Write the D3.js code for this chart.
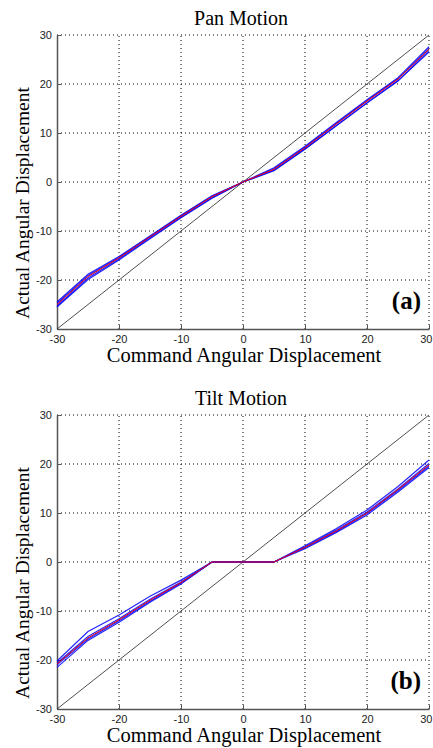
<!DOCTYPE html>
<html><head><meta charset="utf-8">
<script src="https://cdn.jsdelivr.net/npm/d3@7/dist/d3.min.js"></script>
<style>body{margin:0;background:#fff}svg{display:block}</style>
</head><body><svg id="c" width="433" height="748"></svg>
<script>
const commands = [-30,-25,-20,-15,-10,-5,0,5,10,15,20,25,30];
const ticks = [-30,-20,-10,0,10,20,30];
const tickLabels = ["-30","-20","-10","0","10","20","30"];

const panBlue = [
  [-24.5,-18.8,-15.2,-11.0,-6.8,-2.8,0,2.9,7.3,12.1,16.8,21.3,27.6],
  [-25.3,-19.6,-15.7,-11.4,-7.2,-3.2,0,2.4,6.8,11.5,16.2,20.7,26.5],
  [-24.8,-19.1,-15.4,-11.1,-6.9,-2.9,0,2.7,7.1,11.9,16.6,21.1,27.2],
  [-25.5,-19.9,-15.9,-11.6,-7.3,-3.3,0,2.3,6.7,11.4,16.1,20.6,26.8]
];
const panRed = [-25.0,-19.3,-15.5,-11.2,-7.0,-3.0,0,2.6,7.0,11.8,16.5,21.0,27.1];

const tiltBlue = [
  [-20.2,-14.2,-10.8,-7.0,-3.7,0,0,0,3.3,6.8,10.6,15.4,20.8],
  [-21.5,-16.0,-12.3,-8.2,-4.5,0,0,0,2.7,6.0,9.6,14.3,19.3],
  [-20.6,-15.2,-11.6,-7.6,-4.1,0,0,0,3.1,6.5,10.2,14.9,20.1],
  [-21.0,-15.7,-12.0,-8.0,-4.3,0,0,0,2.9,6.2,9.9,14.6,19.6]
];
const tiltRed = [-20.8,-15.5,-11.8,-7.8,-4.2,0,0,0,3.0,6.3,10.0,14.8,19.8];

const identity = [-30,30];

const svg = d3.select("#c");

function panel(top, title, tag, blues, red){
  const x = d3.scaleLinear().domain([-30,30]).range([57,429]);
  const y = d3.scaleLinear().domain([-30,30]).range([top+294, top]);
  const g = svg.append("g");
  // grid
  ticks.slice(1).forEach(t=>{
    g.append("line").attr("x1",x(t)).attr("x2",x(t)).attr("y1",y(-30)).attr("y2",y(30))
      .attr("stroke","#000").attr("stroke-width",1).attr("stroke-dasharray","1,3");
    g.append("line").attr("x1",x(-30)).attr("x2",x(30)).attr("y1",y(t)).attr("y2",y(t))
      .attr("stroke","#000").attr("stroke-width",1).attr("stroke-dasharray","1,3");
  });
  // axes
  const ax = d3.axisBottom(x).tickValues(ticks).tickFormat((d,i)=>tickLabels[i]).tickSizeInner(-4).tickSizeOuter(0).tickPadding(6);
  const ay = d3.axisLeft(y).tickValues(ticks).tickFormat((d,i)=>tickLabels[i]).tickSizeInner(-4).tickSizeOuter(0).tickPadding(5);
  const gx = g.append("g").attr("transform",`translate(0,${y(-30)})`).call(ax);
  const gy = g.append("g").attr("transform",`translate(${x(-30)},0)`).call(ay);
  [gx,gy].forEach(a=>{
    a.select(".domain").attr("stroke","#555").attr("stroke-width",1.5);
    a.selectAll(".tick line").attr("stroke","#555");
    a.selectAll("text").attr("font-family","Liberation Sans, Arial, sans-serif").attr("font-size",11).attr("fill","#222");
  });
  gx.selectAll(".tick text").filter(d=>d===30).attr("text-anchor","end").attr("dx",3);
  const line = d3.line().x((d,i)=>x(commands[i])).y(d=>y(d));
  g.append("path").datum(identity).attr("d",d3.line().x(d=>x(d)).y(d=>y(d)))
    .attr("fill","none").attr("stroke","#222").attr("stroke-width",0.8);
  blues.forEach(s=>{
    g.append("path").datum(s).attr("d",line).attr("fill","none").attr("stroke","#0000ff").attr("stroke-width",1.2).attr("stroke-opacity",0.85);
  });
  g.append("path").datum(red).attr("d",line).attr("fill","none").attr("stroke","#ff0000").attr("stroke-width",1);
  // titles
  g.append("text").attr("x",241).attr("y",top-10).attr("text-anchor","middle")
    .attr("font-family","Liberation Serif, Times New Roman, serif").attr("font-size",20).text(title);
  g.append("text").attr("x",244).attr("y",top+327).attr("text-anchor","middle")
    .attr("font-family","Liberation Serif, Times New Roman, serif").attr("font-size",20.5).text("Command Angular Displacement");
  g.append("text").attr("transform",`translate(29,${top+168}) rotate(-90)`).attr("text-anchor","middle")
    .attr("font-family","Liberation Serif, Times New Roman, serif").attr("font-size",19.5).text("Actual Angular Displacement");
  g.append("text").attr("x",421).attr("y",top+274).attr("text-anchor","end")
    .attr("font-family","Liberation Serif, Times New Roman, serif").attr("font-weight","bold").attr("font-size",25).text(tag);
}
panel(35, "Pan Motion", "(a)", panBlue, panRed);
panel(415, "Tilt Motion", "(b)", tiltBlue, tiltRed);
</script></body></html>
